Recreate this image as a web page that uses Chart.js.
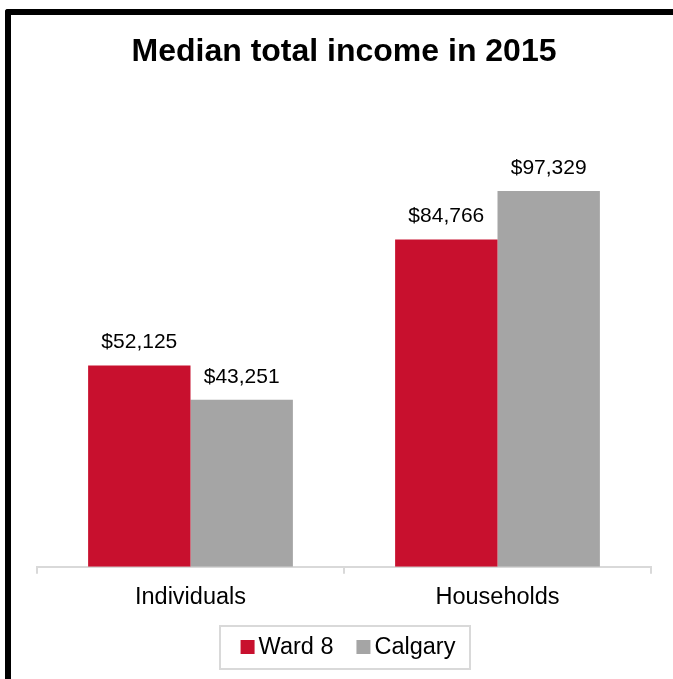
<!DOCTYPE html>
<html>
<head>
<meta charset="utf-8">
<script src="https://cdn.jsdelivr.net/npm/chart.js@4.4.0/dist/chart.umd.min.js"></script>
<style>
    html, body { margin: 0; padding: 0; background: #fff; }
    #wrap { position: relative; width: 673px; height: 679px; overflow: hidden; }
    #chart { display: block; }
    #frame {
        position: absolute; left: 5px; top: 9px; width: 800px; height: 800px;
        border-left: 6px solid #000; border-top: 6px solid #000;
        border-top-left-radius: 3px; pointer-events: none;
    }
</style>
</head>
<body>
<div id="wrap">
    <canvas id="chart" width="673" height="679"></canvas>
    <div id="frame"></div>
</div>
<script>
// data
const categories = ['Individuals', 'Households'];
const ward8 = [52125, 84766];
const calgary = [43251, 97329];
const seriesNames = ['Ward 8', 'Calgary'];
const seriesColors = ['#C8102E', '#A5A5A5'];

const FONT = 'Arial, "Liberation Sans", sans-serif';
Chart.defaults.font.family = FONT;
Chart.defaults.color = '#000';

// dollar labels above each bar
const valueLabels = {
    id: 'valueLabels',
    afterDatasetsDraw(chart) {
        const ctx = chart.ctx;
        ctx.save();
        ctx.font = '21px ' + FONT;
        ctx.fillStyle = '#000';
        ctx.textAlign = 'center';
        ctx.textBaseline = 'middle';
        chart.data.datasets.forEach((ds, i) => {
            chart.getDatasetMeta(i).data.forEach((bar, j) => {
                ctx.fillText('$' + ds.data[j].toLocaleString('en-US'), bar.x, bar.y - 23);
            });
        });
        ctx.restore();
    }
};

// legend with a light grey box round it, like the original
const boxedLegend = {
    id: 'boxedLegend',
    afterDraw(chart) {
        const ctx = chart.ctx;
        const sq = 14, gapText = 4, gapItem = 23;
        ctx.save();
        ctx.font = '23.5px ' + FONT;
        const items = chart.data.datasets.map(ds => ({
            text: ds.label, color: ds.backgroundColor, w: ctx.measureText(ds.label).width
        }));
        let total = 0;
        items.forEach((it, i) => { total += sq + gapText + it.w + (i ? gapItem : 0); });
        const cx = (chart.chartArea.left + chart.chartArea.right) / 2 + 4;
        const cy = chart.height - 32;
        let x = cx - total / 2;

        ctx.strokeStyle = '#d9d9d9';
        ctx.lineWidth = 2;
        ctx.strokeRect(Math.round(x - 21), cy - 21, Math.round(total + 35), 43);

        ctx.textBaseline = 'middle';
        ctx.textAlign = 'left';
        items.forEach((it, i) => {
            if (i) x += gapItem;
            ctx.fillStyle = it.color;
            ctx.fillRect(x, cy - sq / 2, sq, sq);
            x += sq + gapText;
            ctx.fillStyle = '#000';
            ctx.fillText(it.text, x, cy + 1);
            x += it.w;
        });
        ctx.restore();
    }
};

const ctx = document.getElementById('chart').getContext('2d');
new Chart(ctx, {
    type: 'bar',
    data: {
        labels: categories,
        datasets: [
            { label: seriesNames[0], data: ward8, backgroundColor: seriesColors[0] },
            { label: seriesNames[1], data: calgary, backgroundColor: seriesColors[1] }
        ]
    },
    options: {
        responsive: false,
        animation: false,
        devicePixelRatio: 1,
        layout: { padding: { left: 37, right: 22, top: 0, bottom: 57 } },
        datasets: {
            bar: { categoryPercentage: 0.667, barPercentage: 1 }
        },
        plugins: {
            legend: { display: false },
            tooltip: { enabled: false },
            title: {
                display: true,
                text: 'Median total income in 2015',
                color: '#000',
                font: { size: 32, weight: 'bold' },
                padding: { top: 33, bottom: 32 }
            }
        },
        scales: {
            x: {
                grid: {
                    display: true, drawOnChartArea: false, drawTicks: true,
                    tickLength: 7, color: '#d9d9d9', lineWidth: 2, offset: true
                },
                border: { color: '#d9d9d9', width: 2 },
                ticks: { font: { size: 23.5 }, color: '#000', padding: 10 }
            },
            y: { display: false, min: 0, max: 120000 }
        }
    },
    plugins: [valueLabels, boxedLegend]
});
</script>
</body>
</html>
